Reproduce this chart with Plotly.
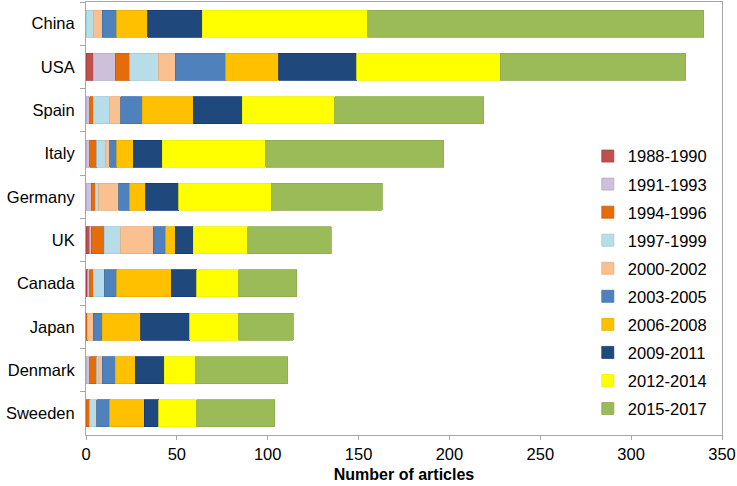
import plotly.graph_objects as go

countries = ["China", "USA", "Spain", "Italy", "Germany", "UK", "Canada", "Japan", "Denmark", "Sweeden"]
periods = ["1988-1990", "1991-1993", "1994-1996", "1997-1999", "2000-2002",
           "2003-2005", "2006-2008", "2009-2011", "2012-2014", "2015-2017"]

# articles per period, one list per period, in country order
p1988 = [0, 4, 0, 0, 0, 2, 1, 0, 0, 0]
p1991 = [0, 12, 2, 2, 3, 1, 1, 0, 2, 0]
p1994 = [0, 8, 2, 4, 2, 7, 2, 1, 4, 2]
p1997 = [4, 16, 9, 5, 2, 9, 6, 0, 1, 4]
p2000 = [5, 9, 6, 2, 11, 18, 0, 3, 2, 0]
p2003 = [8, 28, 12, 4, 6, 7, 7, 5, 7, 7]
p2006 = [17, 29, 28, 9, 9, 5, 30, 21, 11, 19]
p2009 = [30, 43, 27, 16, 18, 10, 14, 27, 16, 8]
p2012 = [91, 79, 51, 57, 51, 30, 23, 27, 17, 21]
p2015 = [185, 102, 82, 98, 61, 46, 32, 30, 51, 43]

series = [p1988, p1991, p1994, p1997, p2000, p2003, p2006, p2009, p2012, p2015]
colors = ["#C0504D", "#CCC0DA", "#E46C0A", "#B7DEE8", "#FAC090",
          "#4F81BD", "#FFC000", "#1F497D", "#FFFF00", "#9BBB59"]
edges = ["#A8403D", "#B8AAC9", "#C95E08", "#9FCBD8", "#E8AE80",
         "#3F71AD", "#E8AE00", "#15397D", "#F0F000", "#8CAB4C"]

fig = go.Figure()
for name, vals, c, e in zip(periods, series, colors, edges):
    fig.add_trace(go.Bar(
        y=countries, x=vals, name=name, orientation="h",
        marker=dict(color=c, line=dict(color=e, width=0.8)),
        legendgroup=name,
    ))

font_family = "Arial, Liberation Sans, sans-serif"
fig.update_layout(
    width=737, height=486,
    barmode="stack", bargap=0.375,
    plot_bgcolor="white", paper_bgcolor="white",
    margin=dict(l=86, r=15, t=2, b=51),
    font=dict(family=font_family, size=16.5, color="black"),
    legend=dict(x=0.789, xanchor="left", y=0.684, yanchor="top",
                traceorder="grouped", tracegroupgap=3.6,
                font=dict(size=16.5), bgcolor="rgba(0,0,0,0)"),
    xaxis=dict(range=[0, 350], dtick=50, showgrid=False, zeroline=False,
               showline=True, linecolor="#A6A6A6", linewidth=1, mirror=True,
               ticks="outside", ticklen=4, tickcolor="#A6A6A6",
               tickfont=dict(size=16.5),
               title=dict(text="<b>Number of articles</b>", font=dict(size=16), standoff=7)),
    yaxis=dict(autorange="reversed", showgrid=False,
               showline=True, linecolor="#A6A6A6", linewidth=1, mirror=True,
               ticks="outside", tickson="boundaries", ticklen=5, tickcolor="#A6A6A6",
               ticklabelstandoff=7,
               tickfont=dict(size=16.5)),
)

fig.write_html("out.html",
               config={"displayModeBar": False},
               post_script="document.body.style.margin='0';document.body.style.overflow='hidden';")
